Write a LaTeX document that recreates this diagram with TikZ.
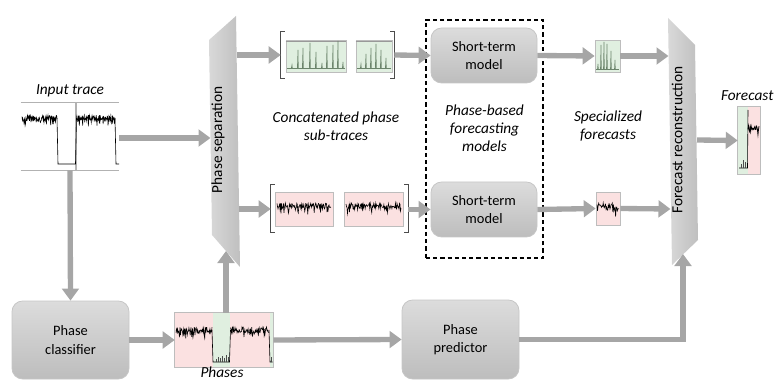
\documentclass[tikz,border=0pt]{standalone}
\usepackage{fontspec}
\setmainfont{Carlito}
\usetikzlibrary{arrows.meta}
\definecolor{flowc}{HTML}{A6A6A6}
\definecolor{boxtop}{HTML}{DCDCDC}
\definecolor{boxbot}{HTML}{BDBDBD}
\definecolor{boxline}{HTML}{C6C6C6}
\definecolor{pinkc}{HTML}{FBE1E1}
\definecolor{greenc}{HTML}{E0EFE0}
\definecolor{spikec}{HTML}{6B846B}
\definecolor{framec}{HTML}{BDBDBD}

% noisy signal: x from #1 to #2 around level #3, #4 samples (spikes point down)
\newcommand\noisytrace[4]{%
  \draw[tr] plot[domain=#1:#2,samples=#4] (\x,{#3+3*rand+(rnd>0.75)*7*rnd});}

\begin{document}
\begin{tikzpicture}[x=0.75pt,y=-0.75pt,
  wh/.style 2 args={minimum width=#1*0.75pt,minimum height=#2*0.75pt},
  tr/.style={line width=0.45pt,black},
  spk/.style={line width=0.45pt,spikec},
  flow/.style={draw=flowc,line width=4pt,-{Triangle[length=9pt,width=12.5pt]}},
  model/.style={draw=boxline,line width=0.6pt,rounded corners=8pt,
    top color=boxtop,bottom color=boxbot,align=center,
    font=\fontsize{10.8}{13.8}\selectfont,inner sep=0pt},
  caption/.style={font=\fontsize{11.5}{13.5}\selectfont\itshape,align=center},
  pbox/.style={fill=pinkc,draw=framec,line width=0.5pt,inner sep=0pt},
  gbox/.style={fill=greenc,draw=framec,line width=0.5pt,inner sep=0pt},
  holder/.style={inner sep=0pt},
  bracket/.style={draw=black!70,line width=0.6pt},
  trap/.style={left color=black!15,right color=black!25}
]
\useasboundingbox (0,0) rectangle (775,381);
\pgfmathsetseed{7}

% ---------- separation / reconstruction blocks ----------
\path[trap] (209,40) -- (236,16) -- (240,267) -- (212,235) -- cycle;
\node[rotate=90,font=\fontsize{11.5}{13}\selectfont] (septext) at (218,140) {Phase separation};
\path[trap] (668,18) -- (695,45) -- (698,240) -- (672,265) -- cycle;
\node[rotate=90,font=\fontsize{11.5}{13}\selectfont] (rectext) at (677,140) {Forecast reconstruction};

\coordinate (sepL) at (210.5,138);
\coordinate (sepU) at (237,55);
\coordinate (sepD) at (239,209);
\coordinate (sepB) at (226,251);
\coordinate (recU) at (668.5,56);
\coordinate (recD) at (670.5,209);
\coordinate (recR) at (697,140);
\coordinate (recB) at (683,254);

% ---------- processing boxes ----------
\node[model,wh={117}{78}] (classifier) at (70.5,340) {Phase\\classifier};
\node[model,wh={117}{79}] (predictor) at (460.5,339.5) {Phase\\predictor};
\node[model,wh={106}{55}] (stA) at (484,55.5) {Short-term\\model};
\node[model,wh={106}{55}] (stB) at (484,209.5) {Short-term\\model};
\node[draw,dash pattern=on 3.2pt off 2.2pt,line width=0.9pt,wh={117}{238},inner sep=0pt] (models) at (484.5,139) {};

% ---------- input trace ----------
\node[holder,wh={98}{67}] (input) at (70,136.5) {};
\draw[black!30,line width=0.8pt] (input.north west) -- (input.north east);
\draw[black!30,line width=0.8pt] (input.south west) -- (input.south east);
\draw[black!30,line width=0.8pt] (76,103) -- (76,170);
\noisytrace{22}{57}{118}{90}
\draw[tr] (57,118) -- (58,164) -- (75.5,164) -- (76.5,118);
\noisytrace{76.5}{115}{118}{95}
\draw[tr] (115,118) -- (116,164) -- (119,164);

% ---------- phases ----------
\node[holder,wh={98}{54}] (phases) at (224,340) {};
\fill[pinkc] (175,313) rectangle (213,367);
\fill[greenc] (213,313) rectangle (230,367);
\fill[pinkc] (230,313) rectangle (270,367);
\fill[greenc] (270,313) rectangle (273,367);
\draw[framec,line width=0.5pt] (phases.north west) rectangle (phases.south east);
\noisytrace{176}{212}{330}{90}
\draw[tr] (212,330) -- (213,362) -- (229.5,362) -- (230.5,330);
\noisytrace{230.5}{269}{330}{95}
\draw[tr] (269,330) -- (270,362) -- (272.5,362);
\foreach \s/\h in {216/3,218/5,220/4,222/6,224/4,226/7,228/5}
  \draw[spk,black!70] (\s,362) -- ++(0,-\h);
\draw[spk,black!70] (271.5,362) -- ++(0,-5);

% ---------- concatenated sub-traces ----------
\node[gbox,wh={60}{32}] (gA) at (316,56) {};
\node[gbox,wh={36}{32}] (gB) at (374,56) {};
\draw[black!40,line width=0.7pt] (gA.north west) ++(0,2) -- ++(60,0);
\draw[black!40,line width=0.7pt] (gB.north west) ++(0,2) -- ++(36,0);
\draw[spk] (287,68) -- (345,68);
\draw[spk] (357,68) -- (391,68);
\foreach \s/\h in {292/3,298/18,303/20,310/25,316/16,322/5,327/22,333/23,338/27,343/6}
  \draw[spk] (\s-0.6,68) -- (\s,68-\h) -- (\s+0.3,68);
\foreach \s/\h in {361/4,366/14,371/20,376/24,381/18,386/10}
  \draw[spk] (\s-0.6,68) -- (\s,68-\h) -- (\s+0.3,68);
\node[holder,wh={113}{46}] (upcat) at (337.5,55) {};
\draw[bracket] ([xshift=3pt]upcat.north west) -- (upcat.north west) -- (upcat.south west) -- ++(4,0);
\draw[bracket] ([xshift=-3pt]upcat.north east) -- (upcat.north east) -- (upcat.south east) -- ++(-4,0);

\node[pbox,wh={58}{34}] (pA) at (304,209) {};
\node[pbox,wh={59}{34}] (pB) at (373.5,209) {};
\noisytrace{277}{331}{206}{110}
\noisytrace{346}{401}{206}{110}
\node[holder,wh={137}{47}] (lowcat) at (339.5,208.5) {};
\draw[bracket] ([xshift=3pt]lowcat.north west) -- (lowcat.north west) -- (lowcat.south west) -- ++(4,0);
\draw[bracket] ([xshift=-3pt]lowcat.north east) -- (lowcat.north east) -- (lowcat.south east) -- ++(-4,0);

% ---------- specialized forecasts ----------
\node[gbox,wh={25}{32}] (specA) at (607.5,56) {};
\draw[spk] (596,69) -- (619,69);
\foreach \s/\h in {598/5,601/24,604/27,607/25,611/18,615/9}
  \draw[spk] (\s-0.5,69) -- (\s,69-\h) -- (\s+0.3,69);
\node[pbox,wh={24}{33}] (specB) at (608,208.5) {};
\draw[tr] plot[domain=597:619,samples=40] (\x,{206+3.5*rand+(rnd>0.7)*8*rnd});

% ---------- forecast ----------
\node[holder,wh={22}{67}] (fc) at (749,140.5) {};
\fill[greenc] (738,107) rectangle (748,174);
\fill[pinkc] (748,107) rectangle (760,174);
\draw[framec,line width=0.5pt] (fc.north west) rectangle (fc.south east);
\draw[tr] (739,168) -- (747.5,168) -- (748,110);
\foreach \s/\h in {741/4,743/8,745/6}
  \draw[spk,black!70] (\s,168) -- ++(0,-\h);
\draw[tr,line width=0.6pt] plot[domain=748:759,samples=22] (\x,{128+2.5*rand+(rnd>0.7)*5*rnd});

% ---------- captions ----------
\node[caption] (inlab) at (70,91) {Input trace};
\node[caption] (catlab) at (336,126) {Concatenated phase\\sub-traces};
\node[caption] (modlab) at (484.5,128) {Phase-based\\forecasting\\models};
\node[caption] (speclab) at (608,126) {Specialized\\forecasts};
\node[caption,anchor=east,inner xsep=1pt] (fclab) at (775,96) {Forecast};
\node[caption] (phlab) at (222,372) {Phases};

% ---------- connectors ----------
\draw[flow] (input.east |- sepL) -- (sepL);
\draw[flow] (input.south) -- (classifier.north);
\draw[flow] (classifier.east) -- (phases.west);
\draw[flow] (phases.east) -- (predictor.west);
\draw[flow] (phases.north -| sepB) -- (sepB);
\draw[flow] (sepU) -- (upcat.west |- sepU);
\draw[flow] (upcat.east) -- (stA.west);
\draw[flow] (sepD) -- (lowcat.west |- sepD);
\draw[flow] (lowcat.east |- stB.west) -- (stB.west);
\draw[flow] (stA.east) -- (specA.west);
\draw[flow] (specA.east) -- (recU);
\draw[flow] (stB.east) -- (specB.west);
\draw[flow] (specB.east) -- (recD);
\draw[flow] (recR) -- (fc.west);
\draw[flow] (predictor.east) -| (recB);
\end{tikzpicture}
\end{document}
